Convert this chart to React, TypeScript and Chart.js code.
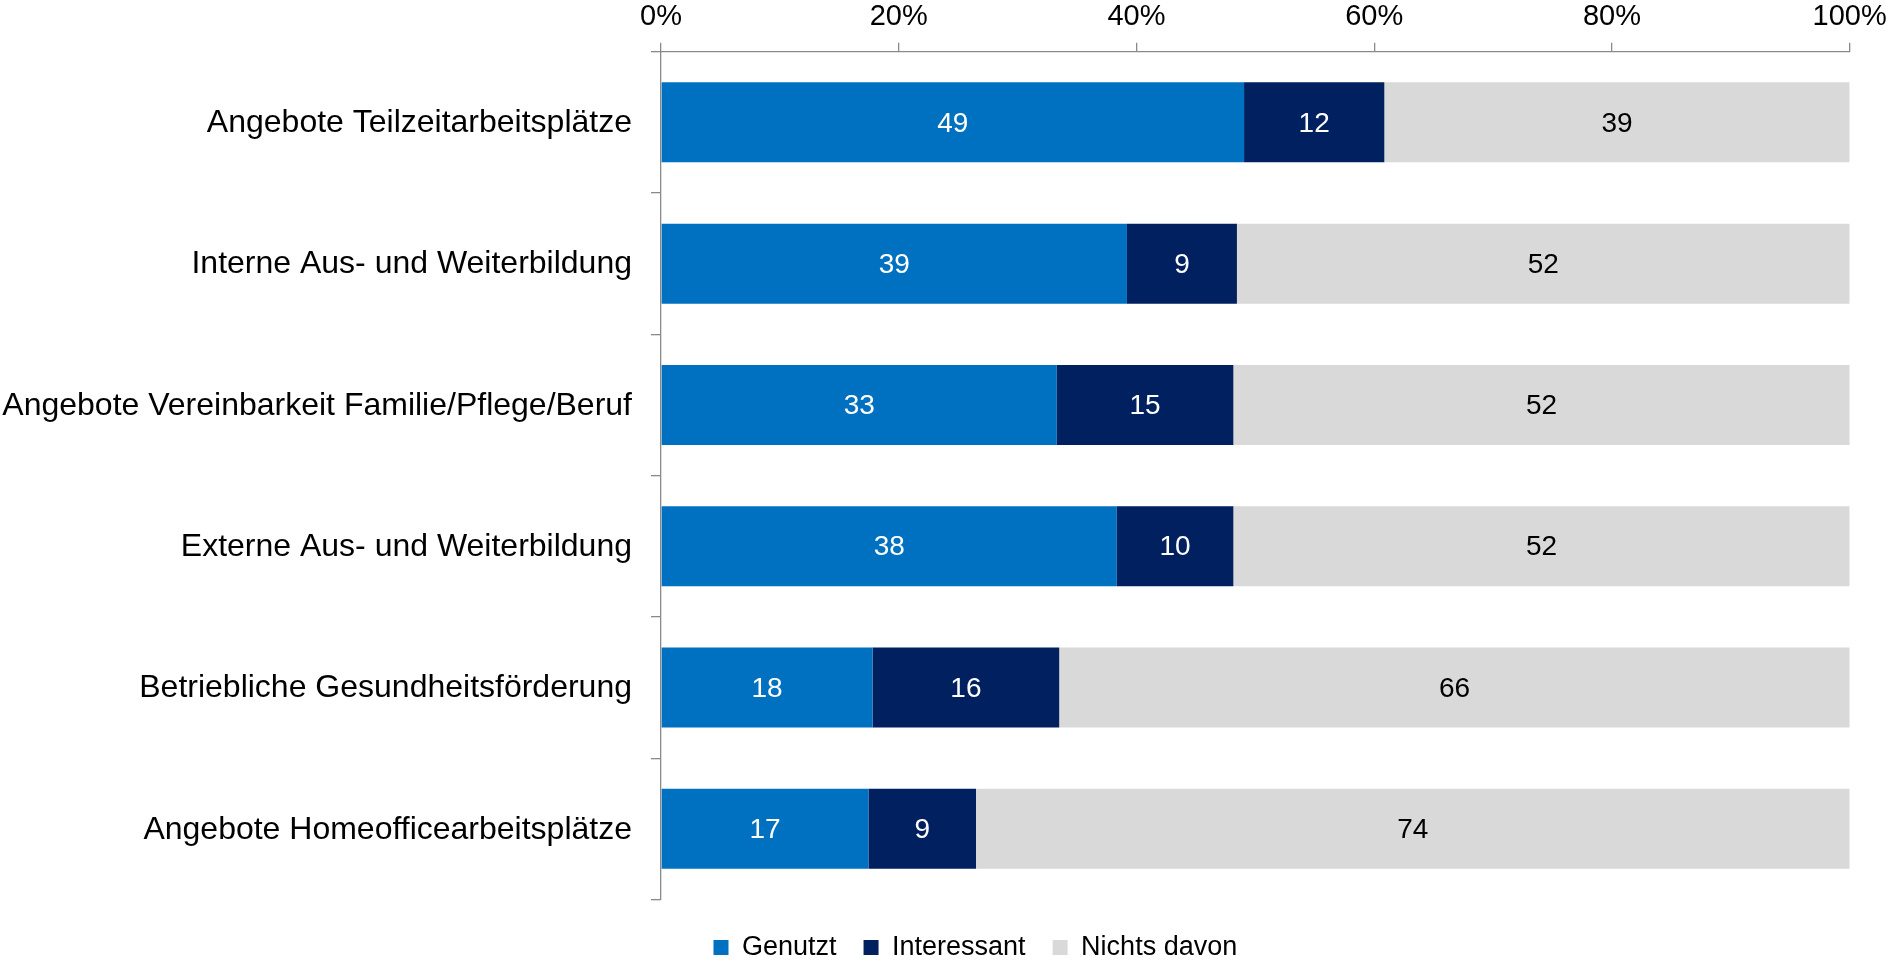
import React, { useEffect, useRef } from "react";
import { Chart, registerables } from "chart.js";

Chart.register(...registerables);

const categories = [
  "Angebote Teilzeitarbeitsplätze",
  "Interne Aus- und Weiterbildung",
  "Angebote Vereinbarkeit Familie/Pflege/Beruf",
  "Externe Aus- und Weiterbildung",
  "Betriebliche Gesundheitsförderung",
  "Angebote Homeofficearbeitsplätze",
];
const seriesNames = ["Genutzt", "Interessant", "Nichts davon"];
// bar lengths (share in %)
const genutzt = [49.05, 39.2, 33.3, 38.35, 17.8, 17.45];
const interessant = [11.8, 9.25, 14.85, 9.8, 15.7, 9.05];
const nichtsDavon = [39.15, 51.55, 51.85, 51.85, 66.5, 73.5];
// printed value labels
const genutztLabels = ["49", "39", "33", "38", "18", "17"];
const interessantLabels = ["12", "9", "15", "10", "16", "9"];
const nichtsDavonLabels = ["39", "52", "52", "52", "66", "74"];
const xTickValues = [0, 20, 40, 60, 80, 100];

const seriesColors = ["#0070C0", "#002060", "#D9D9D9"];
const labelColors = ["#FFFFFF", "#FFFFFF", "#000000"];
const FONT = '"Liberation Sans", Arial, Helvetica, sans-serif';
const AXIS_COLOR = "#8a8a8a";
const LEGEND_SHIFT = 50.5;

const valueLabels = {
  id: "valueLabels",
  afterDatasetsDraw(chart: any) {
    const ctx = chart.ctx;
    ctx.save();
    ctx.font = `28px ${FONT}`;
    ctx.textAlign = "center";
    ctx.textBaseline = "middle";
    chart.data.datasets.forEach((ds: any, i: number) => {
      const meta = chart.getDatasetMeta(i);
      meta.data.forEach((bar: any, j: number) => {
        const { x, y, base } = bar.getProps(["x", "y", "base"], true);
        ctx.fillStyle = labelColors[i];
        ctx.fillText(ds.valueLabels[j], (x + base) / 2, y + 1.5);
      });
    });
    ctx.restore();
  },
};

const legendShift = {
  id: "legendShift",
  afterLayout(chart: any) {
    const lg = chart.legend;
    if (lg) {
      lg.left += LEGEND_SHIFT;
      lg.right += LEGEND_SHIFT;
    }
  },
};

export default function App() {
  const canvasRef = useRef<HTMLCanvasElement | null>(null);

  useEffect(() => {
    if (!canvasRef.current) return;
    Chart.defaults.font.family = FONT;
    Chart.defaults.color = "#000000";
    const values = [genutzt, interessant, nichtsDavon];
    const printed = [genutztLabels, interessantLabels, nichtsDavonLabels];
    const chart = new Chart(canvasRef.current, {
      type: "bar",
      data: {
        labels: categories,
        datasets: seriesNames.map((name, i) => ({
          label: name,
          data: values[i],
          valueLabels: printed[i],
          backgroundColor: seriesColors[i],
          borderWidth: 0,
          categoryPercentage: 1,
          barPercentage: 0.566,
        })),
      },
      options: {
        indexAxis: "y",
        responsive: false,
        animation: false,
        layout: { padding: { left: 0, right: 43.3, top: 0, bottom: 0 } },
        scales: {
          x: {
            position: "top",
            stacked: true,
            min: 0,
            max: 100,
            afterBuildTicks: (scale: any) => {
              scale.ticks = xTickValues.map((v) => ({ value: v }));
            },
            afterFit: (scale: any) => {
              scale.height = 51.7;
              scale.paddingLeft = 0;
              scale.paddingRight = 0;
            },
            ticks: {
              font: { size: 29, family: FONT },
              color: "#000000",
              padding: 8,
              callback: (v: any) => `${v}%`,
            },
            grid: {
              drawOnChartArea: false,
              drawTicks: true,
              tickLength: 9,
              color: AXIS_COLOR,
              lineWidth: 1.3,
            },
            border: { display: true, color: AXIS_COLOR, width: 1.3 },
          },
          y: {
            stacked: true,
            afterFit: (scale: any) => {
              scale.width = 661;
            },
            ticks: {
              font: { size: 32, family: FONT },
              color: "#000000",
              padding: 19,
              labelOffset: 1,
            },
            grid: {
              drawOnChartArea: false,
              drawTicks: true,
              tickLength: 10,
              color: AXIS_COLOR,
              lineWidth: 1.3,
            },
            border: { display: true, color: AXIS_COLOR, width: 1.3 },
          },
        },
        plugins: {
          legend: {
            position: "bottom",
            title: {
              display: true,
              text: " ",
              font: { size: 7.5, lineHeight: 1 },
              padding: 0,
            },
            labels: {
              boxWidth: 15,
              boxHeight: 15,
              padding: 27,
              color: "#000000",
              font: { size: 27, family: FONT },
            },
          },
          tooltip: { enabled: false },
        },
      },
      plugins: [valueLabels, legendShift],
    } as any);
    return () => chart.destroy();
  }, []);

  return (
    <div
      style={{
        position: "fixed",
        left: 0,
        top: 0,
        width: 1893,
        height: 962,
        overflow: "hidden",
        background: "#ffffff",
      }}
    >
      <canvas ref={canvasRef} width={1893} height={971} style={{ display: "block" }} />
    </div>
  );
}
